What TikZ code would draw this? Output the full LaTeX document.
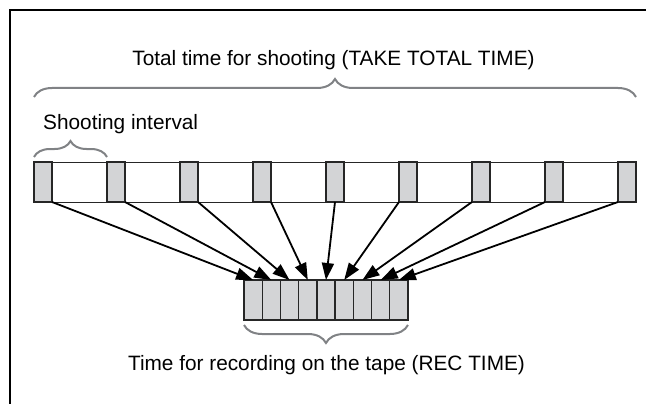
\documentclass[tikz,border=0pt]{standalone}
\usepackage{fontspec}
\setmainfont{Liberation Sans}
\usetikzlibrary{arrows.meta,positioning,decorations.pathreplacing,calc}
\definecolor{cellgray}{HTML}{D3D4D6}
\definecolor{bracegray}{HTML}{808285}

\begin{document}
\begin{tikzpicture}[x=1pt,y=-1pt,
  lbl/.style={font=\fontsize{20.8}{24}\selectfont,inner sep=0pt},
  cell/.style={draw=black!85,line width=1.3pt,fill=cellgray,minimum width=18pt,
               minimum height=40pt,inner sep=0pt,outer sep=0pt},
  tcell/.style={cell,minimum width=18.2pt},
  feed/.style={line width=1.8pt,-{Triangle[length=17pt,width=12pt]}},
  brc/.style={draw=bracegray,line width=2pt,decorate,decoration={brace,amplitude=#1}}]
\useasboundingbox (0,0) rectangle (646,404);
\draw[line width=2pt] (10,404) -- (10,10) -- (646,10);
\node[draw=black!85,line width=1.3pt,minimum width=602pt,minimum height=40pt,
      inner sep=0pt,anchor=north west] (strip) at (34,162) {};
\foreach \i in {0,...,8}
  \node[cell,anchor=north west] (s\i) at (34+73*\i,162) {};
\foreach \i in {0,...,8}
  \node[tcell,anchor=north west] (t\i) at (244+18.22*\i,280) {};
\foreach \i/\a in {0/south east,1/south east,2/south east,3/south east,4/south,
                   5/south west,6/south west,7/south west,8/south west}
  \draw[feed] (s\i.\a) -- (t\i.north);
\draw[brc=18pt] ([yshift=65pt]s0.north west) -- ([yshift=65pt]s8.north east);
\draw[brc=16pt] ([yshift=5pt]s0.north west) -- ([yshift=5pt]s1.north west);
\draw[brc=18pt] ([yshift=-5pt]t8.south east) -- ([yshift=-5pt]t0.south west);
\node[lbl,anchor=base] (total) at (333.5,66) {Total time for shooting (TAKE TOTAL TIME)};
\node[lbl,anchor=base west] (interval) at (43,129) {Shooting interval};
\node[lbl,anchor=base] (rec) at (326.5,370) {Time for recording on the tape (REC TIME)};
\end{tikzpicture}
\end{document}
